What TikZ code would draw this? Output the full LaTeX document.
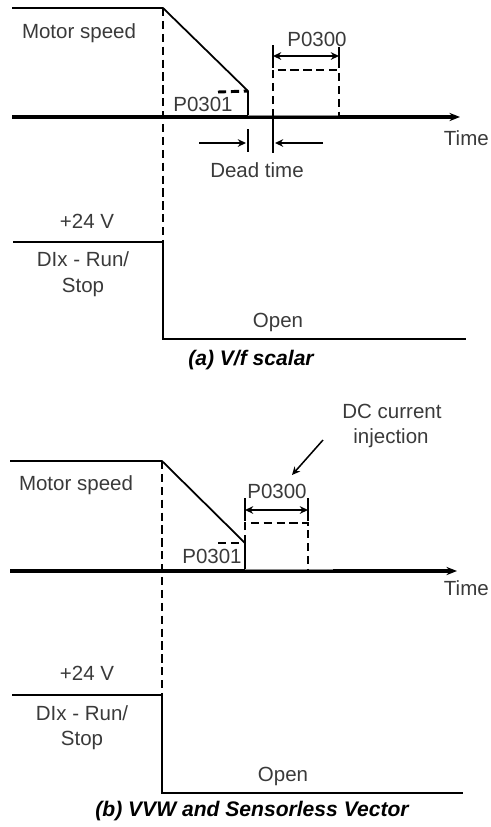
\documentclass[tikz,border=0pt]{standalone}
\usepackage{fontspec}
\setmainfont{Liberation Sans}
\usetikzlibrary{arrows.meta}
\definecolor{txtgray}{HTML}{3A3A3A}
\definecolor{seggray}{HTML}{8A8A8A}

\begin{document}
\begin{tikzpicture}[x=0.03cm, y=-0.03cm,
  axis/.style={-{Stealth[length=9pt, width=7pt]}, line width=2.6pt},
  sig/.style={line width=1.5pt},
  dsh/.style={line width=2.5pt, dash pattern=on 7pt off 4pt},
  dim/.style={{Stealth[length=7pt, width=6.5pt]}-{Stealth[length=7pt, width=6.5pt]}, line width=2pt},
  pointer/.style={-{Stealth[length=7pt, width=6.5pt]}, line width=2pt},
  lbl/.style={font=\fontsize{17.5}{21}\selectfont, text=txtgray, inner sep=0pt},
  caption/.style={font=\fontsize{18}{21}\selectfont\bfseries\itshape, text=black, inner sep=0pt}]

% Bounding box
\useasboundingbox (0,0) rectangle (490,827);

% =========== (a) V/f SCALAR ===========
% Key points
\coordinate (aHi) at (12,8);
\coordinate (aStop) at (163,8);
\coordinate (aRamp) at (248,91);
\coordinate (aZero) at (248,117);
\coordinate (aAx0) at (12,117);
\coordinate (aAx1) at (460,117);

% Motor speed trace
\draw[sig] (aHi) -- (aStop) -- (aRamp) -- (aZero);
\draw[axis] (aAx0) -- (aAx1);
\draw[seggray, line width=1.2pt] (248,115.4) -- (339,115.4);

% Run/Stop marker
\draw[dsh] (aStop) -- (163,242);
\draw[dsh] (218,92) -- (aRamp);

% DC braking window
\draw[dsh] (273,117) -- (273,70) -- (339,70) -- (339,117);
\draw[sig] (273,45) -- (273,68);
\draw[sig] (339,47) -- (339,68);
\draw[sig] (273,117) -- (273,153);
\draw[dim] (273,56) -- (339,56);

% Dead time
\draw[sig] (248,129) -- (248,152);
\draw[pointer] (199,143) -- (246,143);
\draw[pointer] (323,143) -- (275,143);

% Labels
\node[lbl] (aSpeed) at (79,33) {Motor speed};
\node[lbl] (aP300) at (317,39) {P0300};
\node[lbl] (aP301) at (203,104) {P0301};
\node[lbl, anchor=east] (aTime) at (489,138) {Time};
\node[lbl] (aDead) at (257,170) {Dead time};

% Digital input
\draw[sig] (13,242) -- (163,242) -- (163,339) -- (466,339);
\node[lbl] (aV) at (87,221) {+24 V};
\node[lbl] (aDI) at (83,259) {DIx - Run/};
\node[lbl] (aStopTxt) at (83,287) {Stop};
\node[lbl] (aOpen) at (278,322) {Open};
\node[caption] (aCap) at (251,360) {(a) V/f scalar};

% =========== (b) VVW AND SENSORLESS VECTOR ===========
% Key points
\coordinate (bHi) at (10,461);
\coordinate (bStop) at (162,461);
\coordinate (bRamp) at (245,543);
\coordinate (bZero) at (245,571);
\coordinate (bAx0) at (10,571);
\coordinate (bAx1) at (457,571);

% Motor speed trace
\draw[sig] (bHi) -- (bStop) -- (bRamp) -- (bZero);
\draw[axis] (bAx0) -- (bAx1);
\draw[seggray, line width=1.2pt] (245,569.4) -- (333,569.4);

% Run/Stop marker
\draw[dsh] (bStop) -- (162,695);
\draw[dsh] (218,543) -- (bRamp);

% DC injection window
\draw[dsh] (bRamp) -- (245,523) -- (308,523) -- (308,571);
\draw[sig] (245,498) -- (245,521);
\draw[sig] (308,498) -- (308,521);
\draw[dim] (245,510) -- (308,510);

% DC current pointer
\node[lbl] (bDC) at (392,411) {DC current};
\node[lbl] (bInj) at (391,438) {injection};
\coordinate (bPtr0) at (323,440);
\coordinate (bPtr1) at (292,475);
\draw[pointer, line width=1.3pt] (bPtr0) -- (bPtr1);

% Labels
\node[lbl] (bSpeed) at (76,485) {Motor speed};
\node[lbl] (bP300) at (277,491) {P0300};
\node[lbl] (bP301) at (212,556) {P0301};
\node[lbl, anchor=east] (bTime) at (489,588) {Time};

% Digital input
\draw[sig] (12,695) -- (162,695) -- (162,793) -- (463,793);
\node[lbl] (bV) at (87,673) {+24 V};
\node[lbl] (bDI) at (82,713) {DIx - Run/};
\node[lbl] (bStopTxt) at (82,740) {Stop};
\node[lbl] (bOpen) at (283,776) {Open};
\node[caption] (bCap) at (252,811) {(b) VVW and Sensorless Vector};

\end{tikzpicture}
\end{document}
